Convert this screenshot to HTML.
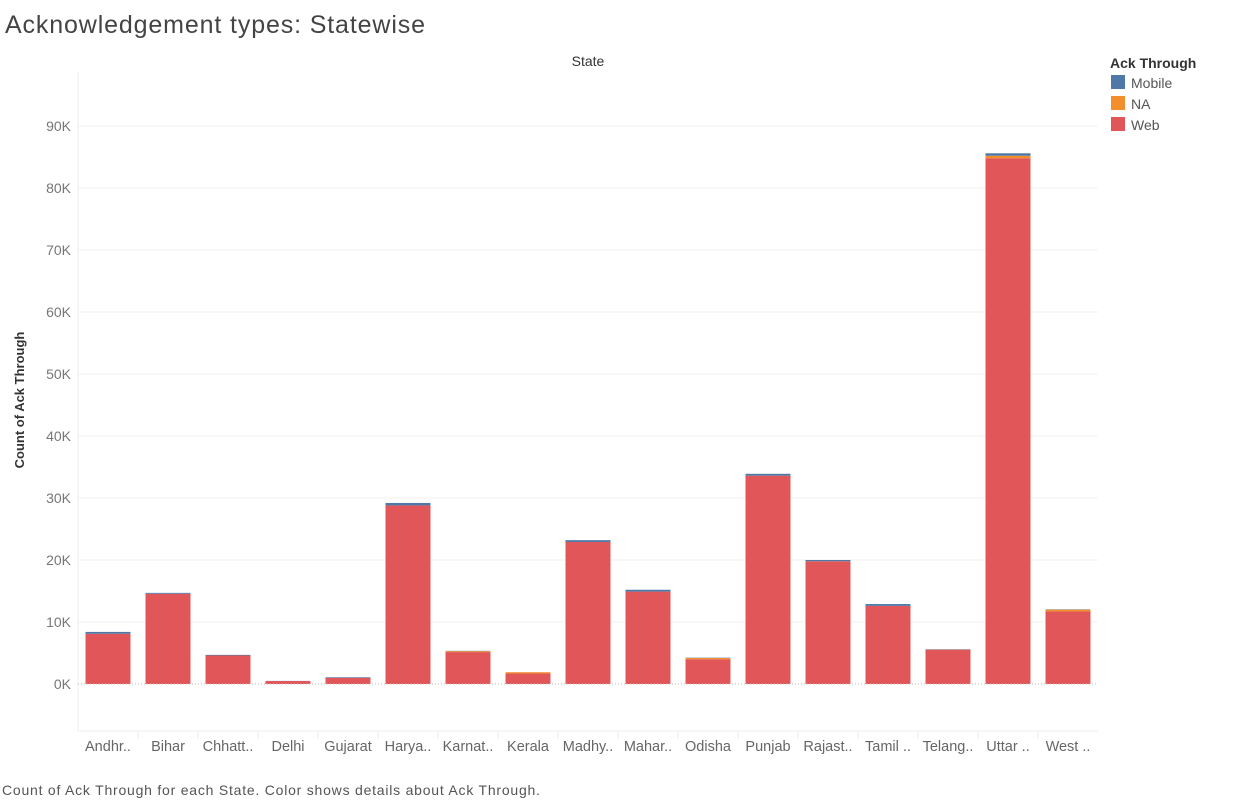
<!DOCTYPE html>
<html><head><meta charset="utf-8"><style>
body{margin:0;background:#fff;font-family:"Liberation Sans",sans-serif;}
svg text{font-family:"Liberation Sans",sans-serif;}
</style></head><body>
<svg id="c" width="1248" height="800" xmlns="http://www.w3.org/2000/svg">
<text x="5" y="33" font-size="25" fill="#444" textLength="420">Acknowledgement types: Statewise</text>
<text x="588" y="66" font-size="14" fill="#333" text-anchor="middle">State</text>
<text transform="translate(24,400) rotate(-90)" font-size="13" font-weight="bold" fill="#333" text-anchor="middle">Count of Ack Through</text>
<text x="2" y="795" font-size="14" fill="#555" textLength="538">Count of Ack Through for each State.  Color shows details about Ack Through.</text>
<g>
<text x="1110" y="68" font-size="14" font-weight="bold" fill="#333">Ack Through</text>
<rect x="1111" y="75" width="14" height="14" fill="#4e79a7"/>
<text x="1131" y="88" font-size="14" fill="#555">Mobile</text>
<rect x="1111" y="96" width="14" height="14" fill="#f28e2b"/>
<text x="1131" y="109" font-size="14" fill="#555">NA</text>
<rect x="1111" y="117" width="14" height="14" fill="#e15759"/>
<text x="1131" y="130" font-size="14" fill="#555">Web</text>
</g>
<g id="plot"></g>
</svg>
<script>
const states=["Andhr..","Bihar","Chhatt..","Delhi","Gujarat","Harya..","Karnat..","Kerala","Madhy..","Mahar..","Odisha","Punjab","Rajast..","Tamil ..","Telang..","Uttar ..","West .."];
const web=[8100,14550,4600,480,1000,28800,5150,1700,22900,14900,4000,33600,19800,12600,5550,84800,11700];
const na=[0,0,0,0,0,0,150,200,0,0,200,0,0,0,0,400,300];
const mobile=[300,150,100,20,100,400,50,0,300,300,50,300,200,300,50,400,50];
const yTicks=[0,10000,20000,30000,40000,50000,60000,70000,80000,90000];
const yTickLabels=["0K","10K","20K","30K","40K","50K","60K","70K","80K","90K"];
const NS="http://www.w3.org/2000/svg";
const g=document.getElementById('plot');
const X0=78,X1=1098,TOP=72,BOT=731,Y0=684,PX=62/10000;
const colW=(X1-X0)/states.length;
function y(v){return Y0-v*PX;}
function el(t,a){const e=document.createElementNS(NS,t);for(const k in a)e.setAttribute(k,a[k]);g.appendChild(e);return e;}
let ax=el('line',{x1:X0,x2:X0,y1:TOP,y2:BOT,stroke:'#eee'});


let bx=el('line',{x1:X0,x2:X1,y1:BOT,y2:BOT,stroke:'#eee'});


yTicks.forEach((t,i)=>{
  if(t>0){const l=el('line',{x1:X0,x2:X1,y1:y(t),y2:y(t),stroke:'#f0f0f0'});
  
  }
  const tx=el('text',{x:X0-7,y:y(t)+5,'font-size':14,fill:'#777','text-anchor':'end'});
  tx.textContent=yTickLabels[i];
  
  
});
states.forEach((s,i)=>{
  const cx=X0+colW*(i+0.5),bw=45,bxp=cx-bw/2;
  if(i>0){const d=el('line',{x1:X0+colW*i,x2:X0+colW*i,y1:BOT,y2:BOT+8,stroke:'#eee'});
  
  }
  let base=0;
  [[web,'#e15759','web'],[na,'#f28e2b','na'],[mobile,'#4e79a7','mobile']].forEach(([arr,c,n])=>{
    const v=arr[i];if(v<=0)return;
    const r=el('rect',{x:bxp,y:y(base+v),width:bw,height:v*PX,fill:c});
    
    
    base+=v;
  });
  const tx=el('text',{x:cx,y:751,'font-size':14.5,fill:'#666','text-anchor':'middle'});
  tx.textContent=s;
  
  
});
const z=el('line',{x1:X0,x2:X1,y1:Y0,y2:Y0,stroke:'#bbb','stroke-dasharray':'1,2'});


</script>
</body></html>
